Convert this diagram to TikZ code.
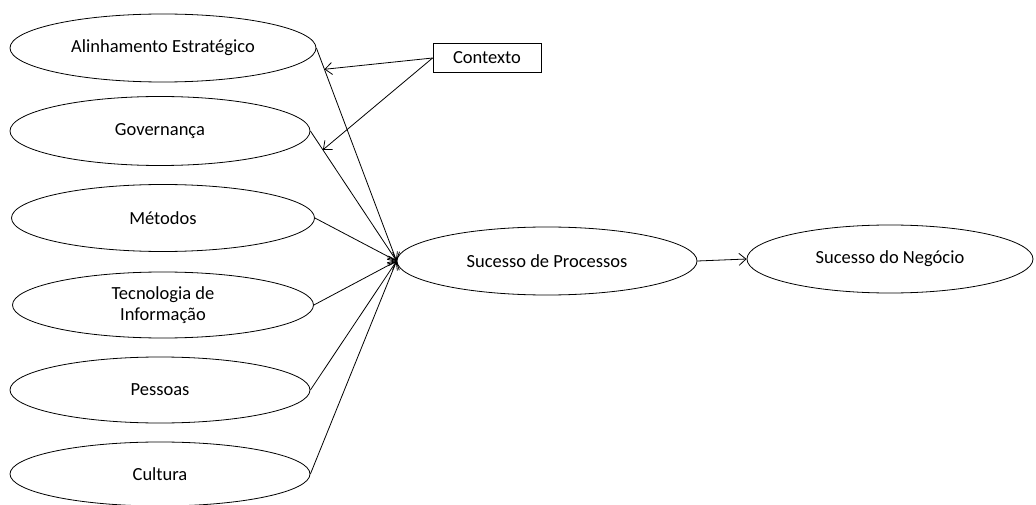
\documentclass[tikz,border=0pt]{standalone}
\usepackage{fontspec}
\setmainfont{Carlito}
\usetikzlibrary{arrows.meta, shapes.geometric, calc}
\tikzset{
  construto/.style = {ellipse, draw=black, align=center, inner sep=0pt,
    text centered, font=\fontsize{18.5}{21}\selectfont, line width=0.8pt},
  caixa/.style = {rectangle, draw=black, inner sep=0pt, minimum width=108pt,
    minimum height=29pt, font=\fontsize{18.5}{21}\selectfont, line width=0.8pt}
}

\begin{document}
\begin{tikzpicture}[x=1pt, y=-1pt, ->, >={Straight Barb[length=7pt, width=12pt]}, line width=0.8pt]
\useasboundingbox (0,0) rectangle (1036,505);
\node [construto, minimum width=306pt, minimum height=68pt] (al) at (163,48) {Alinhamento Estratégico};
\node [construto, minimum width=300pt, minimum height=69pt] (gov) at (160,131) {Governança};
\node [construto, minimum width=303pt, minimum height=67pt] (met) at (163,218) {Métodos};
\node [construto, minimum width=301pt, minimum height=66pt] (ti) at (163,305) {Tecnologia de\\Informação};
\node [construto, minimum width=300pt, minimum height=66pt] (pes) at (160,390) {Pessoas};
\node [construto, minimum width=300pt, minimum height=64pt] (cul) at (160,474) {Cultura};
\node [construto, minimum width=300pt, minimum height=68pt] (sp) at (547,261) {Sucesso de Processos};
\node [construto, minimum width=286pt, minimum height=68pt] (sn) at (890,259) {Sucesso do Negócio};
\node [caixa] (ctx) at (487,58) {Contexto};

% construtos -> sucesso de processos
\foreach \c in {al, gov, met, ti, pes, cul}
  \draw (\c.east) -- (sp.west);
\draw (sp.east) -- (sn.west);

% contexto modera
\coordinate (m1) at ($(al.east)!0.1!(sp.west)$);
\coordinate (m2) at ($(gov.east)!0.145!(sp.west)$);
\draw (ctx.west) -- (m1);
\draw (ctx.west) -- (m2);
\end{tikzpicture}
\end{document}
